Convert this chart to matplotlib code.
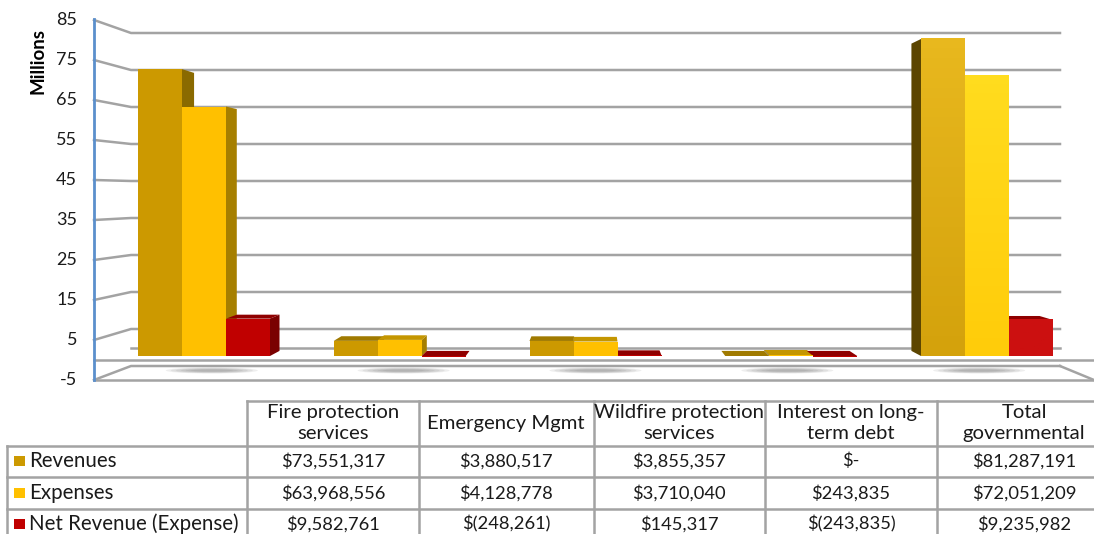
#!/usr/bin/python3

import numpy as np
import matplotlib
matplotlib.use("Agg")
import matplotlib.pyplot as plt
from matplotlib.patches import Ellipse, Polygon

W, H = 1094, 534

categories = ["Fire protection\nservices", "Emergency Mgmt", "Wildfire protection\nservices",
              "Interest on long-\nterm debt", "Total\ngovernmental"]
revenues = [73.551317, 3.880517, 3.855357, 0.0, 81.287191]
expenses = [63.968556, 4.128778, 3.710040, 0.243835, 72.051209]
net_revenue = [9.582761, -0.248261, 0.145317, -0.243835, 9.235982]

row_names = ["Revenues", "Expenses", "Net Revenue (Expense)"]
row_revenues = ["$73,551,317", "$3,880,517", "$3,855,357", "$-", "$81,287,191"]
row_expenses = ["$63,968,556", "$4,128,778", "$3,710,040", "$243,835", "$72,051,209"]
row_net = ["$9,582,761", "$(248,261)", "$145,317", "$(243,835)", "$9,235,982"]

ticks = [85, 75, 65, 55, 45, 35, 25, 15, 5, -5]

GOLD, YELLOW, RED = "#CC9900", "#FFC000", "#C00000"
colors = [GOLD, YELLOW, RED]
top_colors = ["#A07A00", "#C49600", "#8F0000"]
side_colors = ["#8A6A00", "#A67F00", "#7A0000"]
left_side = "#5C4500"
# the total group is lighter and has a slight vertical fade
total_fades = [("#E8B81E", "#D4A20C"), ("#FFDC1E", "#FFCC0A"), ("#CC1010", "#CC1010")]
GRID = "#A3A3A3"
FONT = "Lato"

plt.rcParams["font.family"] = FONT

X0, STEP = 204, 195.75
BAR_W = 44 / STEP
Y0, PX_PER_M = 356, 3.9
MID = 594
LW = 1.8


def front_y(v):
    return 360 - 4 * v


def wall_y(v):
    return 347.5 - 3.7 * v


def back_point(x, v):
    # where a point of the bar front ends up on the bar's back, in data units
    px = X0 + x * STEP
    back_px = MID + (px - MID) * 0.9707
    return (back_px - X0) / STEP, 1.308 + 0.9692 * v


def draw_walls(bg):
    for t in ticks:
        bg.plot([94, 131, 1060], [front_y(t), wall_y(t), wall_y(t)], color=GRID, lw=LW)
        bg.text(77, front_y(t), str(t), ha="right", va="center", fontsize=13, color="#1a1a1a")
    bg.plot([1060, 1094], [wall_y(-5), front_y(-5)], color=GRID, lw=LW)
    bg.plot([94, 1094], [front_y(-5), front_y(-5)], color=GRID, lw=LW)
    bg.plot([94, 1094], [front_y(0), front_y(0)], color=GRID, lw=LW)
    bg.plot([131, 1060], [wall_y(0), wall_y(0)], color=GRID, lw=LW)
    bg.plot([94, 94], [19, 380], color="#5B8FCC", lw=2)
    bg.text(38, 61, "Millions", rotation=90, ha="center", va="center", fontsize=13.5, fontweight="bold")


def draw_table(bg):
    col_x = [247, 419, 594, 765, 937]
    row_y = [401, 446, 477, 509]
    centers = [333, 506, 679, 851, 1024]

    for x in col_x:
        bg.plot([x, x], [row_y[0], H], color=GRID, lw=LW)
    bg.plot([7, 7], [row_y[1], H], color=GRID, lw=LW)
    bg.plot([247, W], [row_y[0], row_y[0]], color=GRID, lw=LW)
    for y in row_y[1:]:
        bg.plot([7, W], [y, y], color=GRID, lw=LW)

    for c, name in zip(centers, categories):
        bg.text(c, 423, name, ha="center", va="center", fontsize=14.6, color="#1a1a1a", linespacing=1.22)

    rows = [row_revenues, row_expenses, row_net]
    for i, y in enumerate([461, 493, 524]):
        bg.fill_between([14, 25], y - 5, y + 5, color=colors[i], lw=0)
        bg.text(29, y, row_names[i], ha="left", va="center", fontsize=14.8, color="#1a1a1a")
        for c, s in zip(centers, rows[i]):
            bg.text(c, y, s, ha="center", va="center", fontsize=13.2, color="#1a1a1a")


def draw_bars(ax):
    series = [revenues, expenses, net_revenue]
    x = np.arange(len(categories))

    for c in x:
        shadow_x = (c * STEP + X0 + (MID - (c * STEP + X0)) * 0.02 - X0) / STEP
        for k in range(6):
            ax.add_patch(Ellipse((shadow_x, (Y0 - 370.5) / PX_PER_M), (92 - k * 10) / STEP, (6 - k * 0.8) / PX_PER_M,
                                 color="#777777", alpha=0.12, lw=0, zorder=1))

    for i, values in enumerate(series):
        pos = x + (i - 1) * BAR_W
        ax.bar(pos, values, BAR_W, color=colors[i], lw=0, zorder=5)

        for p, v in zip(pos, values):
            lo, hi = p - BAR_W / 2, p + BAR_W / 2
            top = max(v, 0)
            # outer side of the bar, depends on which side of the middle it sits
            edge = hi if X0 + hi * STEP < MID else lo
            shade = side_colors[i] if edge == hi else left_side
            ex, ey = back_point(edge, top)
            _, by = back_point(edge, 0)
            ax.add_patch(Polygon([(edge, top), (ex, ey), (ex, by), (edge, 0)], color=shade, lw=0, zorder=3))
            # top face shows only while the bar is below eye level
            lx, ly = back_point(lo, top)
            rx, ry = back_point(hi, top)
            if ly > top:
                ax.add_patch(Polygon([(lo, top), (lx, ly), (rx, ry), (hi, top)], color=top_colors[i], lw=0, zorder=4))

        top_c, bot_c = matplotlib.colors.to_rgb(total_fades[i][0]), matplotlib.colors.to_rgb(total_fades[i][1])
        fade = np.linspace(top_c, bot_c, 32).reshape(32, 1, 3)
        ax.imshow(fade, extent=(pos[-1] - BAR_W / 2, pos[-1] + BAR_W / 2, 0, values[-1]), aspect="auto", zorder=6)


def main():
    fig = plt.figure(figsize=(W / 100, H / 100), dpi=100)

    bg = fig.add_axes([0, 0, 1, 1])
    bg.set_xlim(0, W)
    bg.set_ylim(H, 0)
    bg.axis("off")
    draw_walls(bg)
    draw_table(bg)

    ax = fig.add_axes([0, 0, 1, 1])
    ax.patch.set_alpha(0)
    ax.axis("off")
    draw_bars(ax)
    ax.set_xlim(-X0 / STEP, (W - X0) / STEP)
    ax.set_ylim((Y0 - H) / PX_PER_M, Y0 / PX_PER_M)

    fig.savefig("out.png", dpi=100)
    plt.close(fig)

    return 0


if __name__ == "__main__":
    exit(main())
